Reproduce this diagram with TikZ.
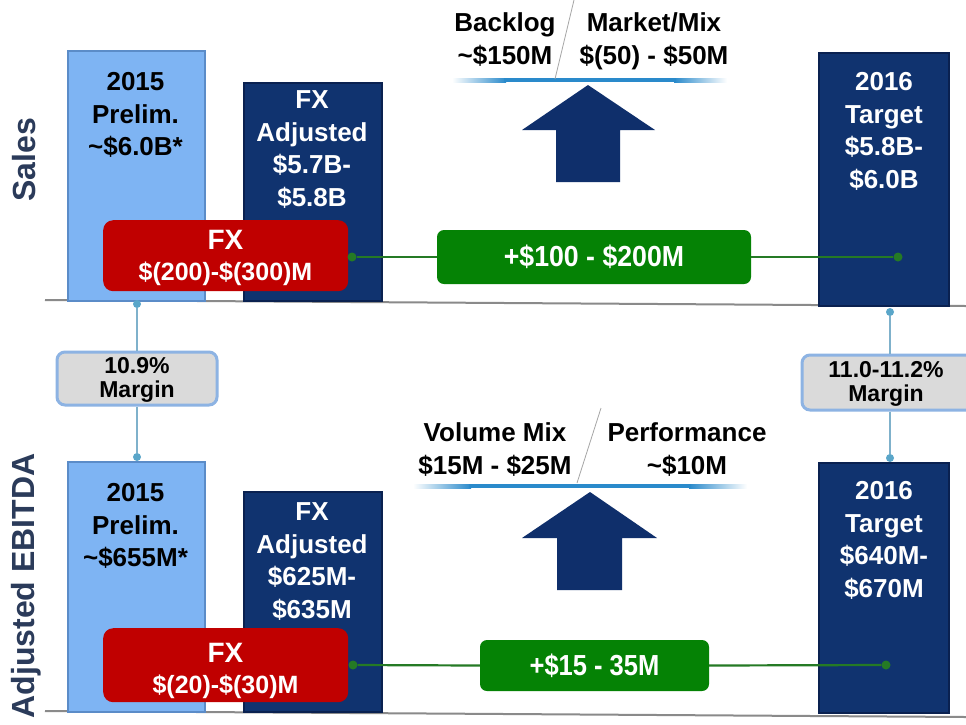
\documentclass[tikz,border=0pt]{standalone}
\usepackage{fontspec}
\usepackage{graphicx}
\setmainfont{Liberation Sans}
\definecolor{lightbar}{HTML}{7EB4F3}
\definecolor{lightbaredge}{HTML}{5B8CC8}
\definecolor{navybar}{HTML}{10336F}
\definecolor{navyedge}{HTML}{0A2150}
\definecolor{fxred}{HTML}{C00000}
\definecolor{okgreen}{HTML}{058205}
\definecolor{linkgreen}{HTML}{257A25}
\definecolor{marginfill}{HTML}{DADADA}
\definecolor{marginedge}{HTML}{8DB3E3}
\definecolor{stemline}{HTML}{7FB1CB}
\definecolor{stemdotc}{HTML}{5AA6C9}
\definecolor{axislbl}{HTML}{2B3B5A}
\definecolor{arrownavy}{HTML}{0F2F6B}
\definecolor{glow}{HTML}{2A8ACB}
\definecolor{rulegray}{HTML}{8A8A8A}
\tikzset{
  barbox/.style={anchor=north west, inner sep=0pt, line width=1.5pt},
  lightbarbox/.style={barbox, fill=lightbar, draw=lightbaredge},
  navybarbox/.style={barbox, fill=navybar, draw=navyedge},
  bartxt/.style={anchor=north, inner sep=0pt, align=center, font=\fontsize{26}{32.5}\selectfont\bfseries},
  darktxt/.style={bartxt, text=black},
  lighttxt/.style={bartxt, text=white},
  fxbox/.style={anchor=north west, fill=fxred, rounded corners=10pt, inner sep=0pt},
  fxbig/.style={text=white, inner sep=0pt, font=\fontsize{28}{30}\selectfont\bfseries},
  fxsmall/.style={text=white, inner sep=0pt, font=\fontsize{25}{30}\selectfont\bfseries},
  gainbox/.style={fill=okgreen, rounded corners=7pt, inner sep=0pt, text=white, font=\fontsize{29}{30}\selectfont\bfseries},
  marginbox/.style={fill=marginfill, draw=marginedge, line width=3pt, rounded corners=8pt, inner sep=0pt},
  margintxt/.style={align=center, inner sep=0pt, font=\fontsize{23}{24}\selectfont\bfseries},
  drivertxt/.style={anchor=north, align=center, inner sep=0pt, font=\fontsize{26}{33}\selectfont\bfseries},
  axistxt/.style={rotate=90, inner sep=0pt, text=axislbl, font=\fontsize{32}{34}\selectfont\bfseries},
  stemlink/.style={draw=stemline, line width=1.2pt},
  stemdot/.style={circle, fill=stemdotc, inner sep=0pt, minimum size=8pt},
  linkdot/.style={circle, fill=linkgreen, inner sep=0pt, minimum size=9pt},
  greenlink/.style={draw=linkgreen, line width=2.2pt},
  axisrule/.style={draw=rulegray, line width=2pt},
  uparrow/.style={fill=arrownavy},
  slashline/.style={draw=gray!70, line width=0.8pt},
}
\begin{document}
\begin{tikzpicture}[x=1pt,y=-1pt]
\useasboundingbox (0,0) rectangle (966,724);
\fill[white] (0,0) rectangle (966,724);

% axis rules
\draw[axisrule] (45,300) -- (966,306);
\draw[axisrule] (45,711) -- (966,717);

% bars (top)
\node[lightbarbox, minimum width=137pt, minimum height=250pt] (s15) at (67,50) {};
\node[navybarbox, minimum width=138pt, minimum height=218pt] (sfx) at (243,82) {};
\node[navybarbox, minimum width=130pt, minimum height=253pt] (s16) at (818,52) {};
% bars (bottom)
\node[lightbarbox, minimum width=137pt, minimum height=250pt] (e15) at (67,461) {};
\node[navybarbox, minimum width=138pt, minimum height=220pt] (efx) at (243,491) {};
\node[navybarbox, minimum width=130pt, minimum height=250pt] (e16) at (818,462) {};

% stems and margin boxes
\node[stemdot] (lt) at (137,304) {};
\node[stemdot] (lb) at (137,457) {};
\node[stemdot] (rt) at (890,312) {};
\node[stemdot] (rb) at (890,458) {};
\node[marginbox, minimum width=160pt, minimum height=53pt] (ml) at (137,378.5) {};
\node[marginbox, minimum width=180pt, minimum height=55pt] (mr) at (892,382.5) {};
\draw[stemlink] (lt) -- (ml.north);
\draw[stemlink] (ml.south) -- (lb);
\draw[stemlink] (rt) -- (rt |- mr.north);
\draw[stemlink] (rt |- mr.south) -- (rb);
\node[margintxt] (mlt) at (137,380) {10.9\%\\Margin};
\node[margintxt] (mrt) at (886,384) {11.0-11.2\%\\Margin};

% red FX boxes
\node[fxbox, minimum width=245pt, minimum height=71pt] (sred) at (103,220) {};
\node[fxbig] (sredA) at (225.5,240) {FX};
\node[fxsmall] (sredB) at (225.5,274) {\$(200)-\$(300)M};
\node[fxbox, minimum width=245pt, minimum height=74pt] (ered) at (103,628) {};
\node[fxbig] (eredA) at (225.5,653) {FX};
\node[fxsmall] (eredB) at (225.5,687) {\$(20)-\$(30)M};

% green bridges
\node[linkdot] (sgl) at (352,257) {};
\node[linkdot] (sgr) at (898,257) {};
\node[gainbox, minimum width=314pt, minimum height=54pt] (sgain) at (594,257) {\scalebox{0.92}[1]{+\$100 - \$200M}};
\draw[greenlink] (sgl) -- (sgain.west);
\draw[greenlink] (sgain.east) -- (sgr);
\node[linkdot] (egl) at (353,665) {};
\node[linkdot] (egr) at (886,665) {};
\node[gainbox, minimum width=229pt, minimum height=51pt] (egain) at (594.5,665.5) {\scalebox{0.88}[1]{+\$15 - 35M}};
\draw[greenlink] (egl) -- (egain.west);
\draw[greenlink] (egain.east) -- (egr);

% up arrows
\fill[uparrow] (588,85) -- (655,130) -- (620,130) -- (620,182) -- (556,182) -- (556,130) -- (522,130) -- cycle;
\fill[uparrow] (590,492) -- (657,538) -- (622,538) -- (622,590) -- (557,590) -- (557,538) -- (522,538) -- cycle;

% glow lines
\fill[left color=white, right color=glow] (452,78) rectangle (506,82);
\fill[left color=glow, right color=white] (674,78) rectangle (727,82);
\fill[glow] (504,78) rectangle (676,82);
\fill[left color=white, right color=glow] (413,484) rectangle (471,488);
\fill[left color=glow, right color=white] (689,484) rectangle (747,488);
\fill[glow] (469,484) rectangle (691,488);

% slashes
\draw[slashline] (555,79) -- (574,0);
\draw[slashline] (577,483) -- (601,408);

% driver labels
\node[drivertxt] (d1) at (505,12.5) {Backlog\\\textasciitilde\$150M};
\node[drivertxt] (d2) at (654,12.5) {Market/Mix\\\$(50) - \$50M};
\node[drivertxt] (d3) at (495,422.5) {Volume Mix\\\$15M - \$25M};
\node[drivertxt] (d4) at (687,422.5) {Performance\\\textasciitilde\$10M};

% bar texts
\node[darktxt] (s15t) at (135.5,72.5) {2015\\Prelim.\\\textasciitilde\$6.0B*};
\node[lighttxt] (sfxt) at (312,90.5) {FX\\Adjusted\\\$5.7B-\\\$5.8B};
\node[lighttxt] (s16t) at (884,72.5) {2016\\Target\\\$5.8B-\\\$6.0B};
\node[darktxt] (e15t) at (135.5,483.5) {2015\\Prelim.\\\textasciitilde\$655M*};
\node[lighttxt] (efxt) at (312,502.5) {FX\\Adjusted\\\$625M-\\\$635M};
\node[lighttxt] (e16t) at (884,481.5) {2016\\Target\\\$640M-\\\$670M};

% axis labels
\node[axistxt] (salesl) at (24,160) {Sales};
\node[axistxt] (ebitdal) at (26,586) {Adjusted EBITDA};
\end{tikzpicture}
\end{document}
